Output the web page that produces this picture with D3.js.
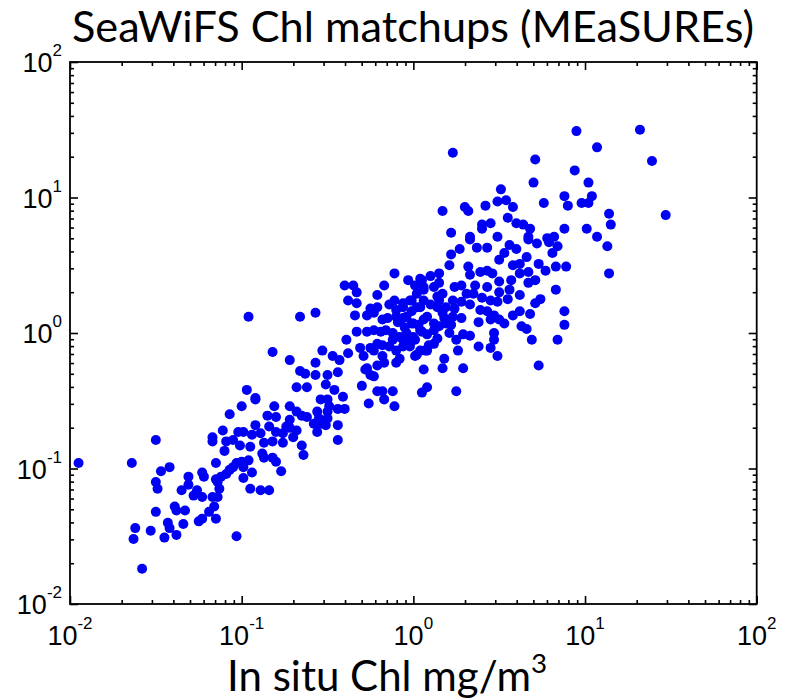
<!DOCTYPE html>
<html><head><meta charset="utf-8">
<script src="https://cdn.jsdelivr.net/npm/d3@7"></script>
<style>body{margin:0;background:#fff}</style>
</head><body>
<script>
const titleText = "SeaWiFS Chl matchups (MEaSUREs)";
const xLabelText = "In situ Chl mg/m";
const xLabelSup = "3";
const decadeExponents = [-2, -1, 0, 1, 2];
// [log10(in situ Chl), log10(SeaWiFS Chl)]
const matchupsLog10 = [
[-1.95,-0.96],[-1.64,-0.96],[-1.50,-0.79],[-1.42,-0.99],[-1.47,-1.02],[-1.50,-1.10],[-1.49,-1.15],[-1.50,-1.32],[-1.62,-1.44],[-1.63,-1.52],
[-1.53,-1.46],[-1.58,-1.74],[-1.45,-1.51],[-1.43,-1.40],[-1.42,-1.44],[-1.38,-1.49],[-1.34,-1.41],[-1.39,-1.28],[-1.38,-1.31],[-1.33,-1.31],
[-1.35,-1.16],[-1.31,-1.12],[-1.31,-1.06],[-1.28,-1.20],[-1.26,-1.16],[-1.23,-1.21],[-1.23,-1.03],[-1.22,-1.06],[-1.25,-1.39],[-1.23,-1.37],
[-1.19,-1.32],[-1.16,-1.28],[-1.15,-1.37],[-1.17,-1.21],[-1.14,-1.21],[-1.14,-1.10],[-1.13,-1.15],[-1.15,-1.08],[-1.12,-1.06],[-1.15,-0.96],
[-1.09,-1.04],[-1.07,-1.01],[-1.05,-0.99],[-1.03,-0.96],[-1.00,-0.95],[-0.99,-0.99],[-0.96,-0.94],[-0.99,-1.07],[-0.94,-1.03],[-0.95,-1.15],
[-0.89,-1.16],[-0.84,-1.16],[-1.03,-1.50],[-1.17,-0.77],[-1.17,-0.80],[-1.11,-0.72],[-1.10,-0.87],[-1.07,-0.60],[-1.00,-0.54],[-1.09,-0.80],
[-1.05,-0.79],[-1.02,-0.73],[-0.99,-0.73],[-1.01,-0.83],[-0.95,-0.84],[-0.94,-0.75],[-0.92,-0.68],[-0.89,-0.74],[-0.87,-0.81],[-0.88,-0.89],
[-0.87,-0.92],[-0.82,-0.92],[-0.80,-0.95],[-0.77,-1.02],[-0.76,-0.81],[-0.82,-0.80],[-0.85,-0.61],[-0.81,-0.54],[-0.80,-0.62],[-0.84,-0.69],
[-0.80,-0.73],[-0.74,-0.69],[-0.76,-0.74],[-0.72,-0.64],[-0.92,-0.49],
[-0.96,0.12],[-0.66,0.12],[-0.57,0.15],[-0.82,-0.14],[-0.72,-0.20],[-0.53,-0.13],[-0.57,-0.22],[-0.66,-0.28],[-0.63,-0.30],[-0.57,-0.31],
[-0.50,-0.31],[-0.47,-0.17],[-0.43,-0.20],[-0.44,-0.29],[-0.38,-0.15],[-0.39,-0.05],[-0.33,0.01],[-0.31,-0.11],[-0.29,-0.17],[-0.68,-0.40],
[-0.62,-0.40],[-0.51,-0.38],[-0.46,-0.42],[-0.54,-0.49],[-0.50,-0.49],[-0.49,-0.54],[-0.41,-0.47],[-0.44,-0.56],[-0.40,-0.56],[-0.97,-0.42],
[-0.92,-0.48],[-0.72,-0.54],[-0.68,-0.58],[-0.65,-0.61],[-0.62,-0.62],[-0.56,-0.58],[-0.55,-0.63],[-0.50,-0.58],[-0.50,-0.63],[-0.58,-0.67],
[-0.54,-0.67],[-0.51,-0.68],[-0.56,-0.73],[-0.44,-0.68],[-0.44,-0.79],[-0.72,-0.70],[-0.68,-0.72],[-0.70,-0.77],[-0.65,-0.83],[-0.64,-0.90],
[-0.30,-0.39],[-0.26,-0.52],[-0.28,-0.27],[-0.25,-0.31],[-0.23,-0.32],[-0.21,-0.43],[-0.18,-0.43],[-0.17,-0.49],[-0.12,-0.43],[-0.11,-0.54],
[0.06,-0.27],[0.08,-0.40],[0.05,-0.44],[-0.27,-0.26],[-0.21,-0.24],[-0.17,-0.22],[-0.10,-0.22],[-0.08,-0.19],[0.01,-0.17],[0.04,-0.13],
[0.08,-0.13],[-0.18,-0.17],[-0.25,-0.11],[-0.23,-0.13],[-0.21,-0.08],[-0.18,-0.09],[-0.14,-0.10],[-0.10,-0.13],[-0.06,-0.10],[-0.02,-0.08],
[-0.27,0.01],[-0.23,0.02],[-0.19,0.01],[-0.16,0.02],[-0.12,0.00],[-0.08,-0.03],[-0.04,-0.04],[0.00,-0.03],[-0.18,0.10],[-0.15,0.11],
[-0.10,0.12],[-0.06,0.11],[-0.01,0.07],[0.03,0.06],[0.06,0.10],[-0.27,0.13],[-0.23,0.15],[-0.25,0.18],[-0.21,0.19],[-0.34,0.13],
[-0.33,0.22],[-0.38,0.24],[-0.40,0.35],[-0.35,0.35],[-0.33,0.30],[-0.21,0.28],[-0.17,0.35],[-0.14,0.21],[-0.10,0.17],[-0.06,0.22],
[-0.01,0.24],[0.02,0.29],[0.06,0.34],[0.01,0.35],[-0.03,0.39],[-0.11,0.44],[0.05,0.39],[-0.01,0.16],[0.02,0.19],[0.06,0.24],
[0.05,0.01],[0.01,-0.05],
[0.27,0.62],[0.37,0.63],[0.43,0.63],[0.33,0.69],[0.56,0.65],[0.60,0.62],[0.67,0.69],[0.72,0.66],[0.79,0.67],[0.84,0.64],
[0.22,0.58],[0.21,0.50],[0.32,0.49],[0.39,0.45],[0.43,0.46],[0.46,0.44],[0.50,0.54],[0.53,0.59],[0.58,0.50],[0.62,0.51],
[0.66,0.56],[0.67,0.45],[0.62,0.44],[0.73,0.51],[0.81,0.59],[0.83,0.49],[0.89,0.49],[0.50,0.38],[0.57,0.39],[0.56,0.32],
[0.55,0.25],[0.67,0.37],[0.83,0.32],[0.74,0.25],[0.71,0.22],[0.68,0.14],[0.62,0.16],[0.58,0.13],[0.88,0.16],[0.88,0.06],
[0.84,-0.05],[0.63,0.05],[0.66,0.03],[0.69,-0.05],[0.73,-0.24],[0.04,0.40],[0.10,0.42],[0.15,0.44],[0.12,0.34],[0.24,0.34],
[0.28,0.35],[0.35,0.29],[0.43,0.34],[0.40,0.26],[0.45,0.24],[0.49,0.23],[0.31,0.29],[0.23,0.24],[0.28,0.23],[0.39,0.17],
[0.43,0.16],[0.47,0.13],[0.50,0.10],[0.53,0.07],[0.45,0.10],[0.38,0.08],[0.47,0.00],[0.47,-0.05],[0.45,-0.11],[0.49,-0.17],
[0.38,-0.10],[0.33,-0.02],[0.29,-0.01],[0.26,-0.13],[0.29,-0.26],[0.25,-0.05],[0.18,-0.19],[0.17,-0.26],[0.07,-0.13],[0.02,-0.16],
[0.25,-0.43],[0.12,-0.08],[-0.06,0.19],[-0.04,0.12],[-0.02,0.24],[0.04,0.19],[0.08,0.12],[0.14,0.19],[0.15,0.24],[0.17,0.15],
[0.19,0.19],[0.12,0.07],[0.15,0.05],[0.19,0.07],[0.04,0.02],[0.00,0.07],[-0.04,0.00],[-0.06,-0.05],[-0.02,-0.10],[0.21,0.00],
[0.12,0.02],[0.08,-0.01],[0.23,0.12],[0.17,0.29],[0.06,0.32],
[0.10,0.21],[0.14,0.27],[0.18,0.11],[0.22,0.06],[-0.09,0.08],[-0.05,0.04],[-0.12,-0.05],[0.09,-0.09],[0.14,-0.04],[0.24,0.18],
[0.28,0.11],[0.33,0.21],[0.36,0.35],[0.50,0.30],[0.62,0.28],[0.71,0.39],[0.77,0.46],[0.33,0.43],[0.15,0.37],[-0.11,0.24],
[0.23,1.33],[0.71,1.28],[0.70,1.11],[0.51,1.06],[0.17,0.90],[0.30,0.93],[0.32,0.90],[0.42,0.94],[0.49,0.97],[0.54,0.98],
[0.58,0.93],[0.76,0.96],[0.55,0.85],[0.60,0.81],[0.64,0.80],[0.68,0.77],[0.22,0.74],[0.33,0.71],[0.40,0.77],[0.45,0.81],
[0.40,0.80],[0.49,0.71],[0.67,0.71],[0.78,0.70],[0.82,0.71],
[0.95,1.49],[1.32,1.50],[1.07,1.37],[1.39,1.27],[0.94,1.20],[1.02,1.11],[0.88,1.01],[0.90,0.94],[0.98,0.96],[1.02,0.96],
[1.04,1.01],[1.14,0.88],[1.15,0.80],[1.47,0.87],[0.88,0.77],[1.01,0.77],[1.07,0.71],[1.13,0.64],[1.14,0.44]
];

const W = 788, H = 700;
const L = 70, R = 756.7, T = 62, B = 604;
const svg = d3.select("body").append("svg").attr("width", W).attr("height", H);

const x = d3.scaleLog().domain([0.01, 100]).range([L, R]);
const y = d3.scaleLog().domain([0.01, 100]).range([B, T]);

const majors = decadeExponents.map(e => Math.pow(10, e));
const minors = [];
decadeExponents.slice(0, -1).forEach(e => { for (let m = 2; m <= 9; m++) minors.push(m * Math.pow(10, e)); });

// points
svg.append("g").selectAll("circle").data(matchupsLog10).join("circle")
  .attr("cx", d => x(Math.pow(10, d[0])))
  .attr("cy", d => y(Math.pow(10, d[1])))
  .attr("r", 5)
  .attr("fill", "#0000f2");

// ticks (inward on all four sides)
function ticks(gen, tr, vals, len) {
  svg.append("g").attr("transform", tr)
    .call(gen.tickValues(vals).tickSizeInner(-len).tickSizeOuter(0).tickFormat(""))
    .call(g => g.select(".domain").remove())
    .call(g => g.selectAll("line").attr("stroke", "#000").attr("stroke-width", 1.6));
}
[[majors, 8], [minors, 4]].forEach(([vals, len]) => {
  ticks(d3.axisBottom(x), `translate(0,${B})`, vals, len);
  ticks(d3.axisTop(x), `translate(0,${T})`, vals, len);
  ticks(d3.axisLeft(y), `translate(${L},0)`, vals, len);
  ticks(d3.axisRight(y), `translate(${R},0)`, vals, len);
});

// frame
svg.append("rect").attr("x", L).attr("y", T).attr("width", R - L).attr("height", B - T)
  .attr("fill", "none").attr("stroke", "#000").attr("stroke-width", 1.8);

// tick labels
const tickFont = "'Liberation Sans', Arial, Helvetica, sans-serif";
decadeExponents.forEach(e => {
  const t = svg.append("text").attr("x", x(Math.pow(10, e))).attr("y", 645)
    .attr("text-anchor", "middle").style("font-family", tickFont).style("font-size", "27px").attr("fill", "#000");
  t.append("tspan").text("10");
  t.append("tspan").attr("dy", -16).style("font-size", "17px").text(e);
});
decadeExponents.forEach(e => {
  const t = svg.append("text").attr("x", 62).attr("y", y(Math.pow(10, e)) + 10)
    .attr("text-anchor", "end").style("font-family", tickFont).style("font-size", "27px").attr("fill", "#000");
  t.append("tspan").text("10");
  t.append("tspan").attr("dy", -16).style("font-size", "17px").text(e);
});

// title
const bigFont = "Lato, 'Open Sans', sans-serif";
const title = svg.append("text").attr("x", 413).attr("y", 42).attr("text-anchor", "middle")
  .style("font-family", bigFont).style("font-size", "40px").attr("fill", "#000").text(titleText);
const tw = title.node().getComputedTextLength();
const titleSize = Math.min(44, 40 * 682 / tw);
title.style("font-size", titleSize + "px");

// x label
const labelSize = 42;
const xl = svg.append("text").attr("x", 227).attr("y", 691)
  .style("font-family", bigFont).style("font-size", labelSize + "px").attr("fill", "#000");
xl.append("tspan").text(xLabelText);
xl.append("tspan").attr("dy", -labelSize * 0.42).style("font-size", (labelSize * 0.66) + "px").text(xLabelSup);
</script>
</body></html>
